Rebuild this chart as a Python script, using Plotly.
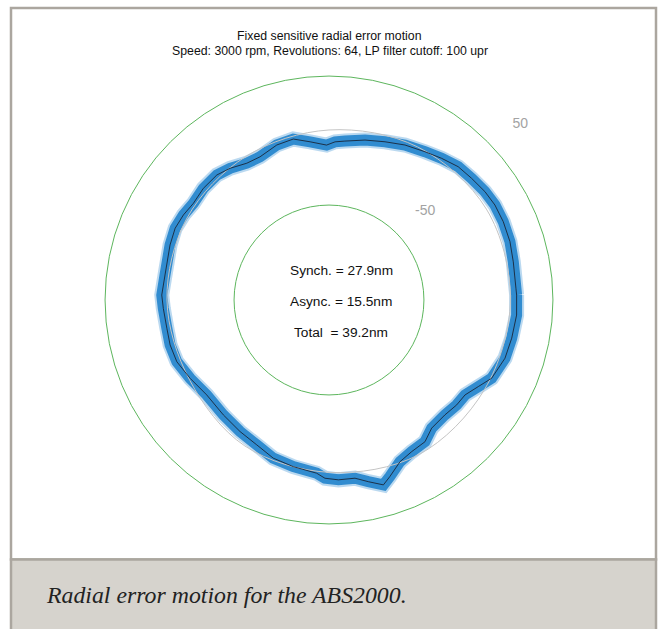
import plotly.graph_objects as go

# ---------------- data ----------------
ANGLE_DEG = [1.5, 3.6, 11.7, 17.9, 24.2, 29.8, 34.8, 40.5, 45.9, 51.5,
             57.1, 63.9, 70.5, 77.3, 84.3, 87.8, 90.9, 96.8, 102.5, 108.6,
             115.7, 121.0, 126.9, 131.9, 138.4, 144.5, 149.7, 155.0, 160.9, 171.3,
             178.3, 182.9, 189.9, 195.8, 202.1, 209.4, 217.8, 227.4, 235.9, 243.5,
             250.6, 257.9, 265.9, 268.7, 273.0, 278.3, 282.2, 286.4, 289.0, 293.7,
             298.6, 304.1, 308.7, 315.2, 320.6, 325.1, 329.9, 334.3, 341.7, 348.2,
             355.4]
MEAN_NM = [21.9, 21.6, 22.3, 23.8, 24.5, 24.6, 23.6, 21.7, 20.3, 16.7,
           13.3, 10.2, 6.5, 3.5, 0.2, -0.9, -3.5, -0.1, 4.2, 3.2,
           -0.4, 0.1, 4.1, 6.6, 6.7, 5.5, 7.1, 8.0, 6.8, 5.0,
           6.1, 5.0, 4.0, 4.4, 3.7, 0.0, -3.6, -2.6, -0.5, 1.9,
           6.4, 8.5, 11.0, 14.6, 16.0, 16.0, 20.5, 25.8, 21.2, 13.3,
           10.3, 9.1, 3.7, 2.9, 4.5, 5.0, 10.2, 16.3, 20.1, 21.1,
           22.3]

REF_ANGLE_DEG = [0, 30, 60, 90, 120, 150, 180, 210, 240, 270, 300, 330]
REF_NM = [17.0, 17.3, 13.5, 8.2, 5.0, 3.5, 2.0, 1.0, 7.0, 10.0, 15.0, 15.5]

RADIAL_TICKS = [-50, 50]
RADIAL_TICK_LABELS = ["-50", "50"]

TITLE_LINES = ["Fixed sensitive radial error motion",
               "Speed: 3000 rpm, Revolutions: 64, LP filter cutoff: 100 upr"]
STAT_LINES = ["Synch. = 27.9nm", "Async. = 15.5nm", "Total\u00a0\u00a0= 39.2nm"]
CAPTION = "Radial error motion for the ABS2000."

# ---------------- geometry / style ----------------
W, H = 659, 629
CX, CY = 329, 300          # polar centre in pixels
PX_PER_NM = 1.29
R_MIN, R_MAX = -123.6, 85.0
LABEL_ANGLE = 42.5
LABEL_OFFSET = 27.5

R_PX = (R_MAX - R_MIN) * PX_PER_NM


def px_x(x):
    return x / W


def px_y(y):
    return 1 - y / H


theta_closed = ANGLE_DEG + ANGLE_DEG[:1]
mean_closed = MEAN_NM + MEAN_NM[:1]
ref_theta_closed = REF_ANGLE_DEG + REF_ANGLE_DEG[:1]
ref_closed = REF_NM + REF_NM[:1]

fig = go.Figure()

# asynchronous band (many revolutions)
fig.add_trace(go.Scatterpolar(
    r=mean_closed, theta=theta_closed, mode="lines",
    line=dict(color="rgba(60,145,212,0.35)", width=15),
    hoverinfo="skip", showlegend=False))
fig.add_trace(go.Scatterpolar(
    r=mean_closed, theta=theta_closed, mode="lines",
    line=dict(color="#318cd0", width=11),
    hoverinfo="skip", showlegend=False))
# reference circle
fig.add_trace(go.Scatterpolar(
    r=ref_closed, theta=ref_theta_closed, mode="lines",
    line=dict(color="#c4c4c4", width=1, shape="spline"),
    hoverinfo="skip", showlegend=False))
# synchronous (mean) error
fig.add_trace(go.Scatterpolar(
    r=mean_closed, theta=theta_closed, mode="lines",
    line=dict(color="#1a2638", width=0.9),
    showlegend=False))
# radial tick labels
fig.add_trace(go.Scatterpolar(
    r=[t + LABEL_OFFSET for t in RADIAL_TICKS],
    theta=[LABEL_ANGLE] * len(RADIAL_TICKS),
    mode="text", text=RADIAL_TICK_LABELS,
    textfont=dict(family="Liberation Sans, Arial, sans-serif", size=14, color="#a3a3a3"),
    cliponaxis=False, hoverinfo="skip", showlegend=False))

shapes = [
    dict(type="rect", xref="paper", yref="paper", layer="below",
         x0=px_x(11), x1=px_x(656), y0=px_y(559.5), y1=px_y(8),
         fillcolor="white", line=dict(color="#aba69f", width=2.5)),
    dict(type="rect", xref="paper", yref="paper", layer="below",
         x0=px_x(11), x1=px_x(656), y0=px_y(660), y1=px_y(559.5),
         fillcolor="#d6d3cd", line=dict(color="#aba69f", width=2.5)),
]

annotations = []
for i, line in enumerate(TITLE_LINES):
    annotations.append(dict(
        text=line, x=px_x(329.5), y=px_y(36 + 15 * i), xref="paper", yref="paper",
        xanchor="center", yanchor="middle", showarrow=False,
        font=dict(family="Liberation Sans, Arial, sans-serif", size=12.3, color="#111111")))
for i, line in enumerate(STAT_LINES):
    annotations.append(dict(
        text=line, x=px_x(341), y=px_y([270, 301, 332][i]), xref="paper", yref="paper",
        xanchor="center", yanchor="middle", showarrow=False,
        font=dict(family="Liberation Sans, Arial, sans-serif", size=13.7, color="#111111")))
annotations.append(dict(
    text="<i>" + CAPTION + "</i>", x=px_x(44), y=px_y(595), xref="paper", yref="paper",
    xanchor="left", yanchor="middle", showarrow=False,
    font=dict(family="Liberation Serif, Times New Roman, serif", size=23.8, color="#222222")))

fig.update_layout(
    width=W, height=H, autosize=False,
    margin=dict(l=0, r=0, t=0, b=0),
    paper_bgcolor="white", plot_bgcolor="white",
    shapes=shapes, annotations=annotations,
    polar=dict(
        domain=dict(x=[px_x(CX - R_PX), px_x(CX + R_PX)],
                    y=[px_y(CY + R_PX), px_y(CY - R_PX)]),
        bgcolor="rgba(0,0,0,0)",
        radialaxis=dict(range=[R_MIN, R_MAX], tickvals=RADIAL_TICKS,
                        showticklabels=False, ticks="", showline=False,
                        showgrid=True, gridcolor="#5db65d", gridwidth=1),
        angularaxis=dict(rotation=0, direction="counterclockwise",
                         showgrid=False, showline=False, showticklabels=False,
                         ticks=""),
    ),
)

fig.write_html(
    "out.html",
    config={"displayModeBar": False},
    post_script="document.body.style.margin='0';document.body.style.padding='0';"
                "document.body.style.overflow='hidden';")
